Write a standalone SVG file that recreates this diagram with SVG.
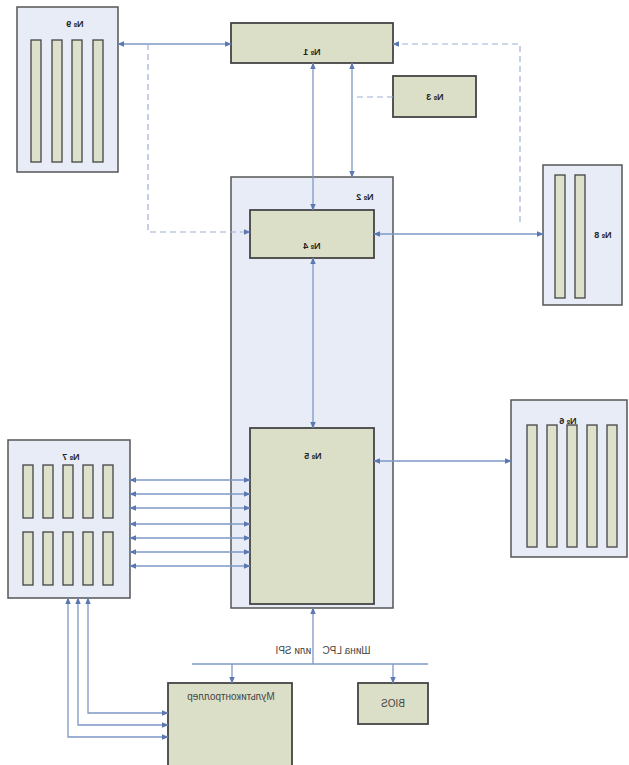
<svg xmlns="http://www.w3.org/2000/svg" width="629" height="765" viewBox="0 0 629 765">
<style>
.panel{fill:#e7ecf6;stroke:#555;stroke-width:1.5}
.box{fill:#dcdfc8;stroke:#444;stroke-width:1.8}
.slot{fill:#dde1cb;stroke:#444;stroke-width:1.3}
.ln{fill:none;stroke:#7d98c6;stroke-width:1.3}
.dl{fill:none;stroke:#9fb0d6;stroke-width:1.2;stroke-dasharray:6 4}
.lbl{font-family:"Liberation Sans",Arial,sans-serif;font-size:9px;font-weight:bold;fill:#222;text-anchor:middle}
.sm{font-family:"Liberation Sans",Arial,sans-serif;font-size:10px;fill:#444;text-anchor:middle}
</style>
<defs>
<marker id="a" viewBox="0 0 10 10" refX="9" refY="5" markerWidth="7" markerHeight="7" orient="auto-start-reverse" markerUnits="userSpaceOnUse">
<path d="M0,1 L10,5 L0,9 z" fill="#5b78b0"/>
</marker>
</defs>
<rect width="629" height="765" fill="#fff"/>

<g id="n9">
<rect class="panel" x="17" y="7" width="101" height="165"/>
<rect class="slot" x="31" y="40" width="10" height="122"/>
<rect class="slot" x="52" y="40" width="10" height="122"/>
<rect class="slot" x="72" y="40" width="10" height="122"/>
<rect class="slot" x="93" y="40" width="10" height="122"/>
<text class="lbl" transform="translate(75,27) scale(-1,1)">№ 9</text>
</g>

<g id="n2">
<rect class="panel" x="231" y="177" width="162" height="431"/>
<text class="lbl" transform="translate(365,200) scale(-1,1)">№ 2</text>
</g>

<g id="n1">
<rect class="box" x="231" y="23" width="162" height="40"/>
<text class="lbl" transform="translate(312,55) scale(-1,1)">№ 1</text>
</g>

<g id="n3">
<rect class="box" x="393" y="76" width="83" height="41"/>
<text class="lbl" transform="translate(435,100) scale(-1,1)">№ 3</text>
</g>

<g id="n4">
<rect class="box" x="250" y="210" width="124" height="48"/>
<text class="lbl" transform="translate(312,249) scale(-1,1)">№ 4</text>
</g>

<g id="n5">
<rect class="box" x="250" y="428" width="124" height="176"/>
<text class="lbl" transform="translate(313,459) scale(-1,1)">№ 5</text>
</g>

<g id="n8">
<rect class="panel" x="543" y="165" width="79" height="140"/>
<rect class="slot" x="555" y="175" width="10" height="123"/>
<rect class="slot" x="575" y="175" width="10" height="123"/>
<text class="lbl" transform="translate(603,238) scale(-1,1)">№ 8</text>
</g>

<g id="n6">
<rect class="panel" x="511" y="400" width="116" height="157"/>
<rect class="slot" x="527" y="425" width="10" height="122"/>
<rect class="slot" x="547" y="425" width="10" height="122"/>
<rect class="slot" x="567" y="425" width="10" height="122"/>
<rect class="slot" x="587" y="425" width="10" height="122"/>
<rect class="slot" x="607" y="425" width="10" height="122"/>
<text class="lbl" transform="translate(568,424) scale(-1,1)">№ 6</text>
</g>

<g id="n7">
<rect class="panel" x="8" y="440" width="122" height="158"/>
<rect class="slot" x="23" y="465" width="10" height="53"/>
<rect class="slot" x="43" y="465" width="10" height="53"/>
<rect class="slot" x="63" y="465" width="10" height="53"/>
<rect class="slot" x="83" y="465" width="10" height="53"/>
<rect class="slot" x="103" y="465" width="10" height="53"/>
<rect class="slot" x="23" y="532" width="10" height="53"/>
<rect class="slot" x="43" y="532" width="10" height="53"/>
<rect class="slot" x="63" y="532" width="10" height="53"/>
<rect class="slot" x="83" y="532" width="10" height="53"/>
<rect class="slot" x="103" y="532" width="10" height="53"/>
<text class="lbl" transform="translate(71,460) scale(-1,1)">№ 7</text>
</g>

<g id="mc">
<rect class="box" x="168" y="683" width="124" height="86"/>
<text class="sm" transform="translate(231,700) scale(-1,1)">Мультиконтроллер</text>
</g>

<g id="bios">
<rect class="box" x="358" y="683" width="70" height="41"/>
<text class="sm" transform="translate(393,707) scale(-1,1)">BIOS</text>
</g>

<g id="connectors">
<line class="ln" x1="118" y1="44" x2="231" y2="44" marker-start="url(#a)" marker-end="url(#a)"/>
<polyline class="dl" points="148,44 148,232 250,232" marker-end="url(#a)"/>
<polyline class="dl" points="520,222 520,44 393,44" marker-end="url(#a)"/>
<line class="ln" x1="313" y1="63" x2="313" y2="210" marker-start="url(#a)" marker-end="url(#a)"/>
<line class="ln" x1="352" y1="63" x2="352" y2="177" marker-start="url(#a)" marker-end="url(#a)"/>
<line class="dl" x1="393" y1="97" x2="352" y2="97"/>
<line class="ln" x1="374" y1="234" x2="543" y2="234" marker-start="url(#a)" marker-end="url(#a)"/>
<line class="ln" x1="313" y1="258" x2="313" y2="428" marker-start="url(#a)" marker-end="url(#a)"/>
<line class="ln" x1="374" y1="461" x2="511" y2="461" marker-start="url(#a)" marker-end="url(#a)"/>
<line class="ln" x1="130" y1="480" x2="250" y2="480" marker-start="url(#a)" marker-end="url(#a)"/>
<line class="ln" x1="130" y1="494" x2="250" y2="494" marker-start="url(#a)" marker-end="url(#a)"/>
<line class="ln" x1="130" y1="508" x2="250" y2="508" marker-start="url(#a)" marker-end="url(#a)"/>
<line class="ln" x1="130" y1="524" x2="250" y2="524" marker-start="url(#a)" marker-end="url(#a)"/>
<line class="ln" x1="130" y1="538" x2="250" y2="538" marker-start="url(#a)" marker-end="url(#a)"/>
<line class="ln" x1="130" y1="552" x2="250" y2="552" marker-start="url(#a)" marker-end="url(#a)"/>
<line class="ln" x1="130" y1="566" x2="250" y2="566" marker-start="url(#a)" marker-end="url(#a)"/>
<line class="ln" x1="313" y1="664" x2="313" y2="608" marker-end="url(#a)"/>
<line class="ln" x1="192" y1="664" x2="428" y2="664"/>
<line class="ln" x1="232" y1="664" x2="232" y2="683" marker-end="url(#a)"/>
<line class="ln" x1="393" y1="664" x2="393" y2="683" marker-end="url(#a)"/>
<polyline class="ln" points="168,737 68,737 68,598" marker-start="url(#a)" marker-end="url(#a)"/>
<polyline class="ln" points="168,725 78,725 78,598" marker-start="url(#a)" marker-end="url(#a)"/>
<polyline class="ln" points="168,713 88,713 88,598" marker-start="url(#a)" marker-end="url(#a)"/>
<text class="sm" transform="translate(323,654) scale(-1,1)" xml:space="preserve">Шина LPC    или SPI</text>
</g>
</svg>
